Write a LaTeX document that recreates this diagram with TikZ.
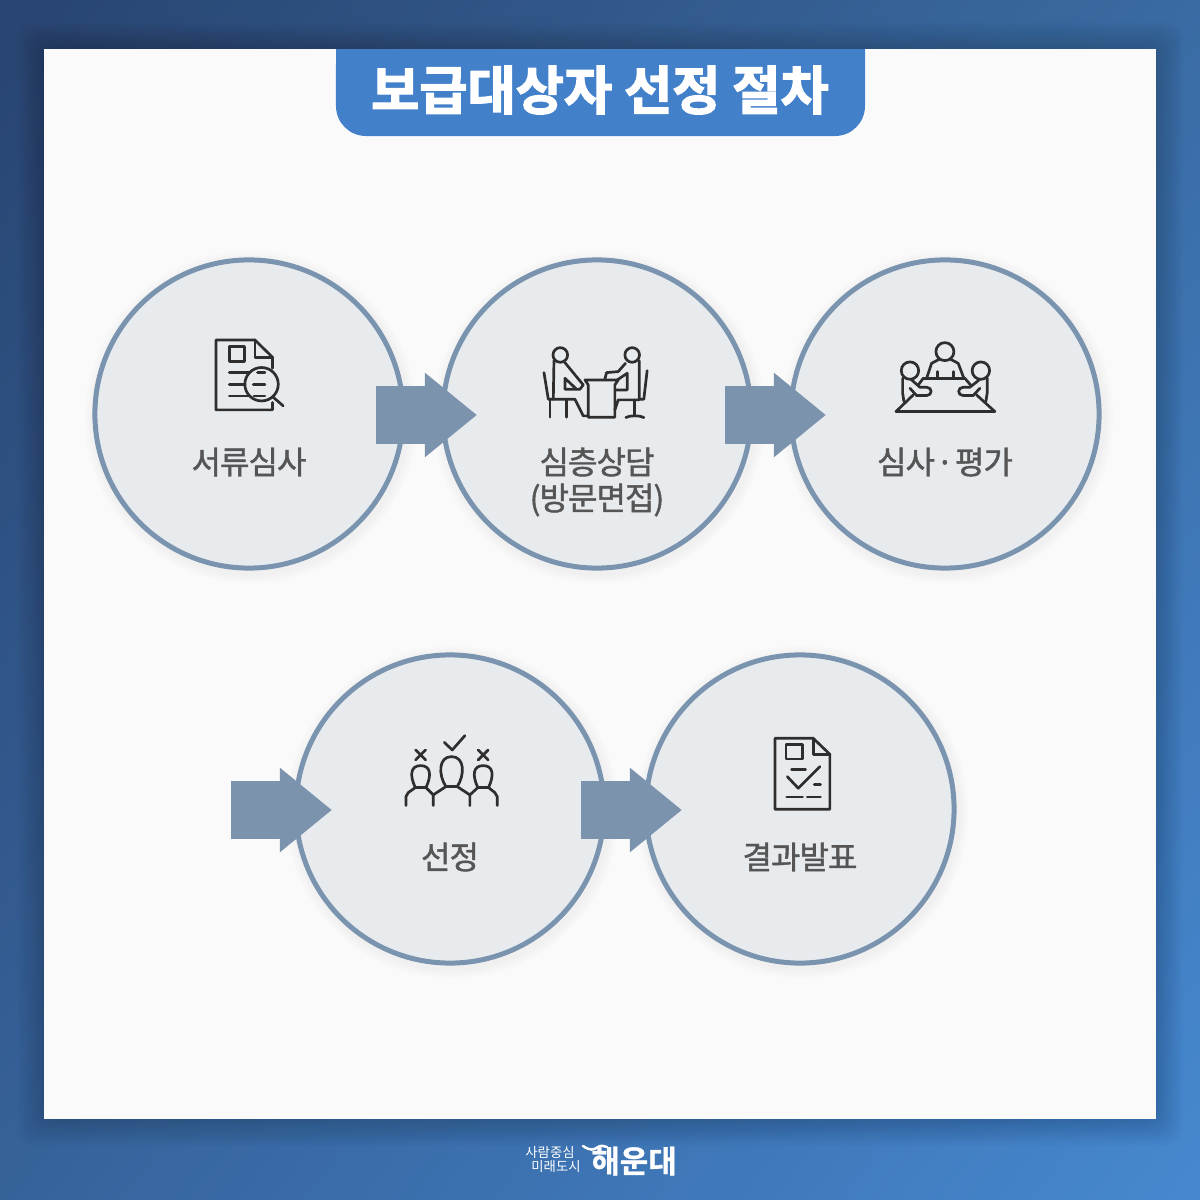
\documentclass[tikz,border=0pt]{standalone}
\usepackage{fontspec}
\usetikzlibrary{arrows.meta,shadings}
\newfontfamily\krfont{Noto Sans CJK KR}[LetterSpace=-3,FakeBold=1.3]
\newfontfamily\krtitle{Noto Sans CJK KR Bold}[FakeBold=2.5]
\newfontfamily\krlogo{Noto Sans CJK KR}
\newfontfamily\krname{Noto Sans CJK KR Bold}[FakeBold=1]
\definecolor{panelwhite}{HTML}{FAFAFA}
\definecolor{tabblue}{HTML}{4280CA}
\definecolor{ringblue}{HTML}{7A94B0}
\definecolor{ringfill}{HTML}{E8EBEE}
\definecolor{flowblue}{HTML}{7C93AE}
\definecolor{labelgrey}{HTML}{555555}
\definecolor{icongrey}{HTML}{2E2E2E}
\definecolor{bgul}{HTML}{284470}
\definecolor{bgur}{HTML}{3A6BA3}
\definecolor{bgll}{HTML}{36629A}
\definecolor{bglr}{HTML}{4688D0}
\tikzset{
  stepcircle/.style={draw=ringblue, fill=ringfill, circle, line width=0.05cm, minimum size=3.08cm, inner sep=0pt, outer sep=0pt},
  steplabel/.style={text=labelgrey, font=\krfont\fontsize{9.1}{11}\selectfont, inner sep=0pt},
  flow/.style={draw=flowblue, line width=0.58cm, -{Triangle[length=0.52cm,width=0.81cm,fill=flowblue]}},
  iconline/.style={draw=icongrey, line width=0.027cm, line cap=round, line join=round},
  iconbox/.style={x=0.00333cm, y=-0.00333cm}
}
\begin{document}
\begin{tikzpicture}[x=0.01cm, y=-0.01cm]
    \useasboundingbox (0,0) rectangle (1200,1200);

    % background
    \shade[lower left=bgll, lower right=bglr, upper left=bgul, upper right=bgur] (0,0) rectangle (1200,1200);

    % panel shadow
    \foreach \d in {2,5,...,26} {
        \fill[black, opacity=0.018, rounded corners=0.15cm] (44-\d,49-\d) rectangle (1156+\d,1119+\d);
    }
    \fill[panelwhite] (44,49) rectangle (1156,1119);

    % title tab
    \fill[tabblue] (336,49) -- (865,49) -- (865,106) arc[start angle=0, end angle=-90, radius=0.3cm] -- (366,136) arc[start angle=-90, end angle=-180, radius=0.3cm] -- cycle;
    \node[inner sep=0pt, text=white, font=\krtitle\fontsize{14.9}{16}\selectfont] (title) at (600,90) {보급대상자 선정 절차};

    % circle shadows
    \foreach \cx/\cy in {249/414, 597/414, 945/414, 450/809, 800/809} {
        \foreach \d in {2,4,...,10} {
            \fill[black, opacity=0.007] (\cx+2,\cy+3) circle[radius=1.565cm+\d*0.01cm];
        }
    }

    % steps
    \node[stepcircle] (review) at (249,414) {};
    \node[stepcircle] (talk) at (597,414) {};
    \node[stepcircle] (judge) at (945,414) {};
    \node[stepcircle] (pick) at (450,809) {};
    \node[stepcircle] (result) at (800,809) {};
    \coordinate (entry) at (231,810);

    % arrows
    \draw[flow] ([xshift=-0.27cm,yshift=-0.01cm]review.east) -- ([xshift=0.34cm,yshift=-0.01cm]talk.west);
    \draw[flow] ([xshift=-0.26cm,yshift=-0.01cm]talk.east) -- ([xshift=0.35cm,yshift=-0.01cm]judge.west);
    \draw[flow] (entry) -- ([xshift=0.36cm,yshift=-0.01cm]pick.west);
    \draw[flow] ([xshift=-0.23cm,yshift=-0.01cm]pick.east) -- ([xshift=0.36cm,yshift=-0.01cm]result.west);

    % labels
    \node[steplabel] (reviewtext) at (249,462) {서류심사};
    \node[steplabel] (talktext) at (597,462) {심층상담};
    \node[steplabel] (visittext) at (597,500) {(방문면접)};
    \node[steplabel] (judgetext) at (945,462) {심사\hspace{0.3pt}·\hspace{0.3pt}평가};
    \node[steplabel] (picktext) at (450,857) {선정};
    \node[steplabel] (resulttext) at (800,857) {결과발표};

    % document and magnifier
    \begin{scope}[shift={(190,320)}, iconbox]
        \draw[iconline] (248,248) -- (248,270) -- (78,270) -- (78,60) -- (195,60) -- (248,112) -- (248,145);
        \draw[iconline] (195,60) -- (195,112) -- (248,112);
        \draw[iconline] (118,80) rectangle (163,125);
        \draw[iconline] (118,158) -- (178,158) (203,158) -- (225,158);
        \draw[iconline] (118,193) -- (165,193) (190,193) -- (225,193);
        \draw[iconline] (118,228) -- (178,228) (192,228) -- (225,228);
        \draw[iconline] (215,193) circle[radius=0.167cm];
        \draw[iconline] (250,232) -- (280,258);
    \end{scope}

    % two people at a desk
    \begin{scope}[shift={(530,330)}, iconbox]
        \draw[iconline] (91,75) circle[radius=0.073cm];
        \draw[iconline] (307,75) circle[radius=0.073cm];
        \draw[iconline] (72,92) -- (70,208) -- (135,208) -- (160,258) -- (175,258);
        \draw[iconline] (105,98) -- (160,165) -- (150,178) -- (105,178) -- (105,145) -- (140,178);
        \draw[iconline] (42,128) -- (55,208) -- (70,208);
        \draw[iconline] (60,208) -- (60,262) (110,208) -- (110,262);
        \draw[iconline] (165,150) -- (265,150) (165,150) -- (175,165) -- (175,262) -- (255,262) -- (255,165) -- (265,150);
        \draw[iconline] (328,92) -- (328,210) -- (265,210) -- (255,240);
        \draw[iconline] (287,100) -- (265,125) -- (230,128) -- (225,148);
        \draw[iconline] (292,130) -- (262,150) (292,130) -- (292,180) -- (258,180);
        \draw[iconline] (352,122) -- (342,208) -- (328,208);
        \draw[iconline] (315,210) -- (315,258);
        \draw[iconline] (288,263) .. controls (300,256) and (330,256) .. (342,263);
    \end{scope}

    % meeting table
    \begin{scope}[shift={(880,330)}, iconbox]
        \draw[iconline] (195,65) circle[radius=0.09cm];
        \draw[iconline] (178,88) -- (155,100) -- (140,145);
        \draw[iconline] (212,88) -- (235,100) -- (252,145);
        \draw[iconline] (130,145) -- (255,145);
        \draw[iconline] (172,125) -- (172,145) (220,125) -- (220,145);
        \draw[iconline] (48,245) -- (345,245);
        \draw[iconline] (130,145) -- (115,165) (100,195) -- (48,245);
        \draw[iconline] (255,145) -- (272,165) (290,195) -- (345,245);
        \draw[iconline] (90,122) circle[radius=0.087cm];
        \draw[iconline] (303,122) circle[radius=0.087cm];
        \draw[iconline] (68,145) -- (68,190) -- (72,215);
        \draw[iconline] (322,145) -- (322,190) -- (318,215);
        \draw[iconline] (95,150) -- (120,172) -- (140,172) .. controls (158,172) and (158,197) .. (140,197) -- (110,197) -- (90,175);
        \draw[iconline] (298,150) -- (270,172) -- (250,172) .. controls (232,172) and (232,197) .. (250,197) -- (280,197) -- (300,175);
    \end{scope}

    % three people with marks
    \begin{scope}[shift={(390,725)}, iconbox]
        \draw[iconline] (163,52) -- (187,75) -- (225,32);
        \draw[iconline] (77,75) -- (107,105) (107,75) -- (77,105);
        \draw[iconline] (265,75) -- (295,105) (295,75) -- (265,105);
        \draw[iconline] (168,185) .. controls (145,150) and (145,95) .. (185,95) .. controls (225,95) and (225,150) .. (202,185) -- cycle;
        \draw[iconline] (76,188) .. controls (58,150) and (62,122) .. (92,122) .. controls (122,122) and (126,150) .. (108,188) -- cycle;
        \draw[iconline] (264,188) .. controls (246,150) and (250,122) .. (280,122) .. controls (310,122) and (314,150) .. (296,188) -- cycle;
        \draw[iconline] (168,185) -- (130,210) -- (130,242) (202,185) -- (240,210) -- (240,242);
        \draw[iconline] (76,188) -- (55,203) -- (48,215) -- (48,242) (108,188) -- (130,210);
        \draw[iconline] (264,188) -- (240,210) (296,188) -- (315,203) -- (322,215) -- (322,242);
    \end{scope}

    % checked document
    \begin{scope}[shift={(750,725)}, iconbox]
        \draw[iconline] (190,40) -- (75,40) -- (75,253) -- (240,253) -- (240,88) -- cycle;
        \draw[iconline] (190,40) -- (190,88) -- (240,88);
        \draw[iconline] (108,58) rectangle (158,102);
        \draw[iconline] (125,133) -- (167,133);
        \draw[iconline] (112,155) -- (145,190) -- (210,125);
        \draw[iconline] (193,178) -- (212,178);
        \draw[iconline] (110,216) -- (158,216) (172,216) -- (212,216);
    \end{scope}

    % logo
    \node[text=white, inner sep=0pt, font=\krlogo\fontsize{3.8}{4}\selectfont] (slogana) at (550,1152) {사람중심};
    \node[text=white, inner sep=0pt, font=\krlogo\fontsize{3.8}{4}\selectfont] (sloganb) at (556,1166) {미래도시};
    \node[text=white, inner sep=0pt, font=\krname\fontsize{8.8}{9}\selectfont] (logoname) at (634,1161) {해운대};
    \draw[white, line width=0.025cm, line cap=round] (583,1146) .. controls (590,1151) and (594,1150) .. (598,1147) .. controls (601,1145) and (604,1146) .. (607,1147);
\end{tikzpicture}
\end{document}
